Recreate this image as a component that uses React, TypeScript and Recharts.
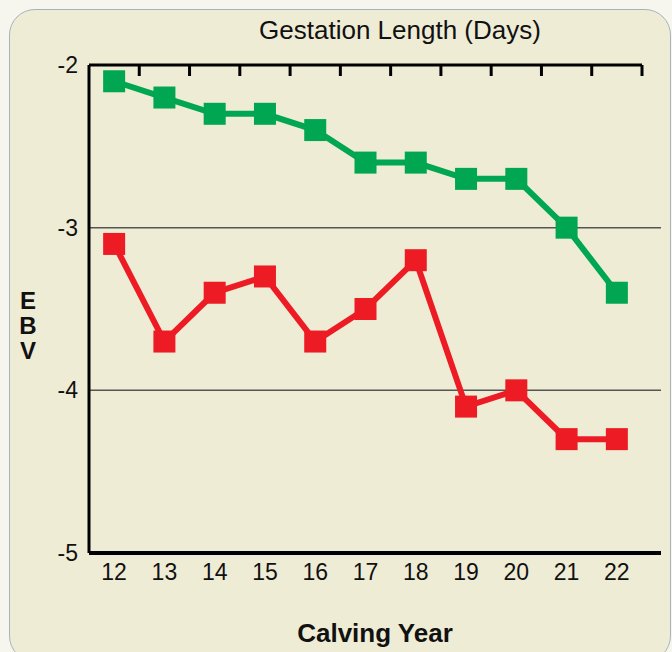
import React from 'react';
import { LineChart, Line, XAxis, YAxis, ReferenceLine, Label } from 'recharts';

const years = [12, 13, 14, 15, 16, 17, 18, 19, 20, 21, 22];
const greenEbv = [-2.1, -2.2, -2.3, -2.3, -2.4, -2.6, -2.6, -2.7, -2.7, -3.0, -3.4];
const redEbv = [-3.1, -3.7, -3.4, -3.3, -3.7, -3.5, -3.2, -4.1, -4.0, -4.3, -4.3];
const yTicks = [-2, -3, -4, -5];
const gridValues = [-3, -4];
const bandEdges = [12.5, 13.5, 14.5, 15.5, 16.5, 17.5, 18.5, 19.5, 20.5, 21.5, 22.5];
const yLabelLetters = ['E', 'B', 'V'];

const data = years.map((year, i) => ({ year, green: greenEbv[i], red: redEbv[i] }));

const square = (color: string) => (props: any) => {
  const { cx, cy, index } = props;
  if (cx == null || cy == null) return <g key={index} />;
  return <rect key={index} x={cx - 11} y={cy - 11} width={22} height={22} fill={color} />;
};

const GREEN = '#00a651';
const RED = '#ed1c24';

export default function App() {
  return (
    <div
      style={{
        position: 'absolute',
        left: 0,
        top: 0,
        width: 672,
        height: 652,
        background: '#f6f6ef',
        overflow: 'hidden',
        fontFamily: '"Liberation Sans", Arial, sans-serif',
      }}
    >
      <div
        style={{
          position: 'absolute',
          left: 9,
          top: 9,
          width: 662,
          height: 653,
          boxSizing: 'border-box',
          border: '1.5px solid #a9b3bf',
          borderRadius: 26,
          background: '#efecd5',
        }}
      />
      <div
        style={{
          position: 'absolute',
          left: 200,
          width: 400,
          top: 17,
          textAlign: 'center',
          fontSize: 26,
          lineHeight: '26px',
          color: '#111',
        }}
      >
        Gestation Length (Days)
      </div>
      {yLabelLetters.map((ch, i) => (
        <div
          key={ch}
          style={{
            position: 'absolute',
            left: 8,
            width: 40,
            top: 288 + i * 25,
            height: 25,
            textAlign: 'center',
            fontSize: 24,
            lineHeight: '25px',
            fontWeight: 'bold',
            color: '#111',
          }}
        >
          {ch}
        </div>
      ))}
      <div style={{ position: 'absolute', left: 0, top: 0 }}>
        <LineChart width={672} height={652} data={data} margin={{ top: 65, right: 11, bottom: 0, left: 0 }}>
          <XAxis
            dataKey="year"
            type="number"
            domain={[11.5, 22.878]}
            allowDataOverflow
            ticks={years}
            interval={0}
            height={99}
            axisLine={{ stroke: '#000', strokeWidth: 4 }}
            tickLine={false}
            tickSize={0}
            tickMargin={11}
            tick={{ fill: '#111', fontSize: 23 }}
          >
            <Label
              value="Calving Year"
              position="insideBottom"
              offset={10}
              style={{ fontSize: 26, fontWeight: 'bold', fill: '#111' }}
            />
          </XAxis>
          <XAxis
            xAxisId="top"
            dataKey="year"
            type="number"
            orientation="top"
            mirror
            domain={[11.5, 22.878]}
            allowDataOverflow
            ticks={bandEdges}
            interval={0}
            axisLine={false}
            tickFormatter={() => ''}
            tickSize={11}
            tickLine={{ stroke: '#000', strokeWidth: 3 }}
          />
          <YAxis
            type="number"
            domain={[-5, -2]}
            ticks={yTicks}
            interval={0}
            width={89}
            axisLine={{ stroke: '#000', strokeWidth: 3 }}
            tickLine={false}
            tickSize={0}
            tickMargin={11}
            tick={{ fill: '#111', fontSize: 23 }}
          />
          <YAxis
            yAxisId="inner"
            type="number"
            domain={[-5, -2]}
            ticks={gridValues}
            interval={0}
            mirror
            axisLine={false}
            tickFormatter={() => ''}
            tickSize={13}
            tickLine={{ stroke: '#000', strokeWidth: 2 }}
          />
          {gridValues.map((v) => (
            <ReferenceLine key={v} y={v} stroke="#555" strokeWidth={1.5} />
          ))}
          <ReferenceLine
            segment={[
              { x: 11.5, y: -2 },
              { x: 22.5, y: -2 },
            ]}
            stroke="#000"
            strokeWidth={3}
          />
          <Line
            dataKey="red"
            stroke={RED}
            strokeWidth={6}
            dot={square(RED)}
            activeDot={false}
            isAnimationActive={false}
          />
          <Line
            dataKey="green"
            stroke={GREEN}
            strokeWidth={6}
            dot={square(GREEN)}
            activeDot={false}
            isAnimationActive={false}
          />
        </LineChart>
      </div>
    </div>
  );
}
